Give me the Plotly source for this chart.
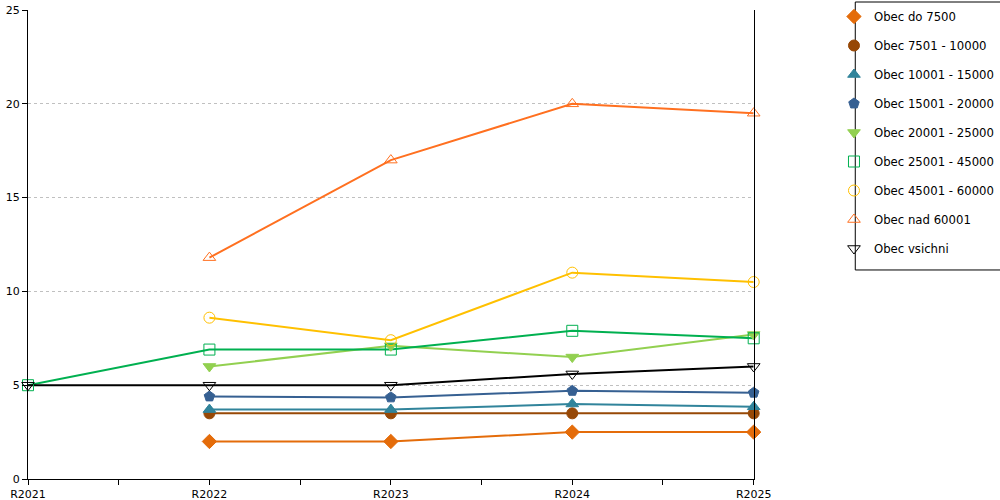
import plotly.graph_objects as go

# roky a hodnoty serii (odhad z obrazku)
years = ['R2021', 'R2022', 'R2023', 'R2024', 'R2025']
x = [0, 1, 2, 3, 4]

names = ['Obec do 7500', 'Obec 7501 - 10000', 'Obec 10001 - 15000', 'Obec 15001 - 20000',
         'Obec 20001 - 25000', 'Obec 25001 - 45000', 'Obec 45001 - 60000',
         'Obec nad 60001', 'Obec vsichni']

do7500 = [None, 2.0, 2.0, 2.5, 2.5]
o7501_10000 = [None, 3.5, 3.5, 3.5, 3.5]
o10001_15000 = [None, 3.7, 3.7, 4.0, 3.85]
o15001_20000 = [None, 4.4, 4.35, 4.7, 4.6]
o20001_25000 = [None, 6.0, 7.1, 6.5, 7.7]
o25001_45000 = [5.0, 6.9, 6.9, 7.9, 7.5]
o45001_60000 = [None, 8.6, 7.4, 11.0, 10.5]
nad60001 = [None, 11.8, 17.0, 20.0, 19.5]
vsichni = [5.0, 5.0, 5.0, 5.6, 6.0]

series = [do7500, o7501_10000, o10001_15000, o15001_20000, o20001_25000,
          o25001_45000, o45001_60000, nad60001, vsichni]

colors = ['#E46C0A', '#974806', '#31849B', '#366092', '#92D050',
          '#00B050', '#FFC000', '#FF7020', '#000000']
symbols = ['diamond', 'circle', 'triangle-up', 'pentagon', 'triangle-down',
           'square-open', 'circle-open', 'triangle-up-open', 'triangle-down-open']

fig = go.Figure()

# lines first (no legend), markers on top (legend shows only the marker)
for i in range(len(series)):
    fig.add_trace(go.Scatter(x=x, y=series[i], name=names[i], mode='lines',
                             line=dict(color=colors[i], width=2),
                             showlegend=False, cliponaxis=False))
for i in range(len(series)):
    fig.add_trace(go.Scatter(x=x, y=series[i], name=names[i], mode='markers',
                             marker=dict(symbol=symbols[i], size=11, color=colors[i],
                                         line=dict(color=colors[i], width=1)),
                             legendgroup='g%d' % i, cliponaxis=False))

# legend frame
fig.add_shape(type='rect', xref='paper', yref='paper',
              x0=0.8511, x1=1.003, y0=0.4382, y1=1.0,
              line=dict(color='black', width=1), fillcolor='white', layer='below')

fig.update_layout(
    width=1000, height=500, autosize=False,
    plot_bgcolor='white', paper_bgcolor='white',
    margin=dict(l=28, r=0, t=2, b=21, pad=0),
    font=dict(family='DejaVu Sans, Verdana, sans-serif', size=11, color='black'),
    showlegend=True,
    legend=dict(x=0.8292, y=1.0, xanchor='left', yanchor='top',
                bgcolor='rgba(0,0,0,0)', borderwidth=0, tracegroupgap=10,
                font=dict(size=11.7)),
)

fig.update_xaxes(range=[0, 4], domain=[0, 0.7466], tickvals=x, ticktext=years,
                 showgrid=False, showline=True, linecolor='black', linewidth=1,
                 ticks='outside', ticklen=5, tickcolor='black',
                 minor=dict(tickvals=[0.5, 1.5, 2.5, 3.5], ticks='outside', ticklen=5,
                            tickcolor='black'),
                 zeroline=False, automargin=False)
fig.update_yaxes(range=[0, 25], domain=[0, 0.9832], dtick=5, showgrid=True,
                 gridcolor='#c0c0c0', griddash='dot', gridwidth=1, showline=True,
                 linecolor='black', linewidth=1, mirror=True, zeroline=False,
                 ticks='outside', ticklen=5, tickcolor='black', automargin=False)

# page has a default body margin, drop it so the chart sits at the window corner
fig.write_html('out.html', config=dict(displayModeBar=False, responsive=False),
               post_script="document.body.style.margin='0';"
                           "document.body.style.overflow='hidden';")
